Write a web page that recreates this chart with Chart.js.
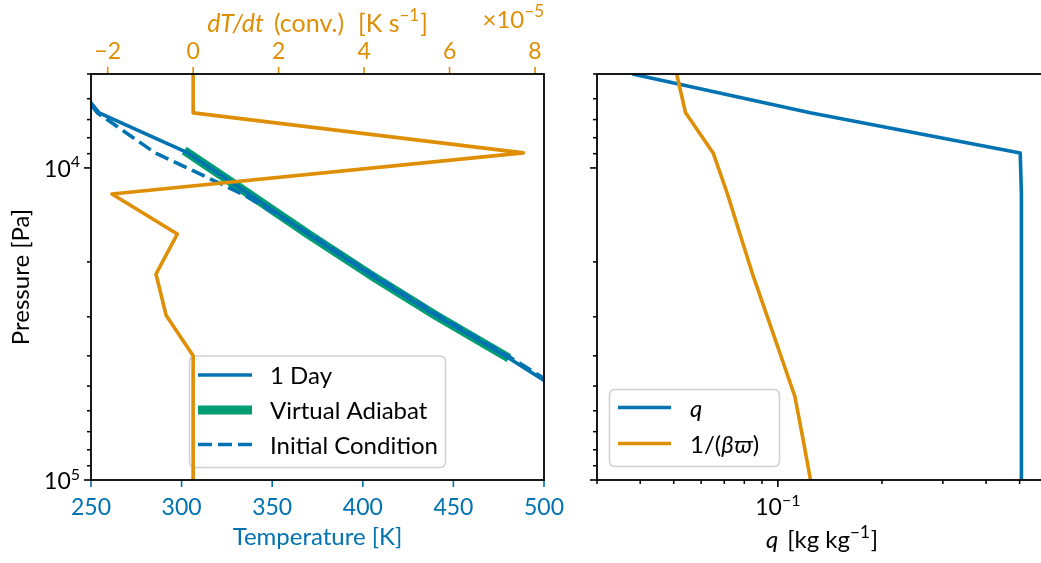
<!DOCTYPE html>
<html>
<head>
<meta charset="utf-8">
<script src="https://cdn.jsdelivr.net/npm/chart.js@4.4.1/dist/chart.umd.min.js"></script>
<style>
  html, body { margin: 0; padding: 0; background: #fff; overflow: hidden; }
  #wrap { position: relative; width: 1041px; height: 563px; overflow: hidden; }
  canvas { position: absolute; top: 0; }
  #profile { left: 0; }
  #moisture { left: 580px; }
</style>
</head>
<body>
<div id="wrap">
  <canvas id="profile" width="580" height="563"></canvas>
  <canvas id="moisture" width="480" height="563"></canvas>
</div>
<script>
// Model pressure levels [Pa], top of the column first
const pressure = [5000, 6660, 8950, 12120, 16280, 21880, 29720, 39990, 53990, 73000, 100000];

// Temperature profiles [K] on the levels above (from the top down)
const tempDay1    = [237, 254.5, 303.5, 337.2, 369.7, 403.5, 440.4, 478.5, 514];
const tempInitial = [237, 253.5, 285.4, 333.5, 371.0, 405.0, 442.0, 480.0, 516];
// Virtual adiabat covers the convecting layer only (levels 2..7)
const adiabatFirstLevel = 2;
const tempAdiabat = [303.5, 337.2, 369.7, 403.5, 440.4, 478.5];

// Convective heating rate [K s^-1]
const convRate = [0, 0, 7.73e-5, -1.90e-5, -0.37e-5, -0.87e-5, -0.63e-5, 0, 0, 0, 0];

// Specific humidity and 1/(beta*varpi) [kg kg^-1]
const qSpecific    = [0.038, 0.124, 0.502, 0.506, 0.506, 0.506, 0.506, 0.506, 0.506, 0.506, 0.506];
const invBetaVarpi = [0.051, 0.0541, 0.065, 0.0715, 0.0777, 0.0845, 0.093, 0.102, 0.112, 0.118, 0.1243];

// Axis ticks
const tempTicks = [250, 300, 350, 400, 450, 500];
const rateTicks = [-2, 0, 2, 4, 6, 8];
const rateExponent = -5;
const pressureMajor = [1e4, 1e5];
const pressureMinor = [5000, 6000, 7000, 8000, 9000, 20000, 30000, 40000, 50000, 60000, 70000, 80000, 90000];
const qMajor = [0.1];
const qMinor = [0.03, 0.04, 0.05, 0.06, 0.07, 0.08, 0.09, 0.2, 0.3, 0.4, 0.5, 0.6];

const BLUE = '#0173b2', ORANGE = '#de8f05', GREEN = '#029e73', BLACK = '#000000';
const FAM = 'Lato, "DejaVu Sans", sans-serif';
const TICK = 23, LABEL = 24, SUP = 16;

function font(size, italic) { return (italic ? 'italic ' : '') + size + 'px ' + FAM; }
function profile(values, levels) { return values.map((v, i) => ({ x: v, y: levels[i] })); }

// Text made of runs: [{t, size, italic, raise, gap}]
function runsWidth(ctx, runs) {
  let w = 0;
  for (const r of runs) { ctx.font = font(r.size || LABEL, r.italic); w += (r.gap || 0) + ctx.measureText(r.t).width; }
  return w;
}
function drawRuns(ctx, runs, x, y, align, color) {
  const w = runsWidth(ctx, runs);
  let cx = align === 'center' ? x - w / 2 : align === 'right' ? x - w : x;
  ctx.save();
  ctx.fillStyle = color; ctx.textAlign = 'left'; ctx.textBaseline = 'alphabetic';
  for (const r of runs) {
    cx += r.gap || 0;
    ctx.font = font(r.size || LABEL, r.italic);
    ctx.fillText(r.t, cx, y - (r.raise || 0));
    cx += ctx.measureText(r.t).width;
  }
  ctx.restore();
}
function seg(ctx, x1, y1, x2, y2, color, w) {
  ctx.save();
  ctx.strokeStyle = color; ctx.lineWidth = w; ctx.lineCap = 'butt';
  ctx.beginPath(); ctx.moveTo(x1, y1); ctx.lineTo(x2, y2); ctx.stroke();
  ctx.restore();
}
function frame(ctx, a) {
  ctx.save();
  ctx.strokeStyle = BLACK; ctx.lineWidth = 1.8; ctx.lineJoin = 'miter';
  ctx.strokeRect(a.left, a.top, a.right - a.left, a.bottom - a.top);
  ctx.restore();
}
function pressureTicks(ctx, sy, a, withLabels) {
  for (const p of pressureMinor) { const y = sy.getPixelForValue(p); seg(ctx, a.left - 4, y, a.left, y, BLACK, 1.5); }
  for (const p of pressureMajor) {
    const y = sy.getPixelForValue(p);
    seg(ctx, a.left - 7, y, a.left, y, BLACK, 1.6);
    if (withLabels) {
      const e = Math.round(Math.log10(p));
      drawRuns(ctx, [{ t: '10', size: TICK }, { t: String(e), size: SUP, raise: 9.5 }], a.left - 11, y + 9, 'right', BLACK);
    }
  }
}
function legendBox(ctx, x, y, w, h) {
  const r = 6;
  ctx.save();
  ctx.beginPath();
  ctx.moveTo(x + r, y); ctx.lineTo(x + w - r, y); ctx.quadraticCurveTo(x + w, y, x + w, y + r);
  ctx.lineTo(x + w, y + h - r); ctx.quadraticCurveTo(x + w, y + h, x + w - r, y + h);
  ctx.lineTo(x + r, y + h); ctx.quadraticCurveTo(x, y + h, x, y + h - r);
  ctx.lineTo(x, y + r); ctx.quadraticCurveTo(x, y, x + r, y);
  ctx.closePath();
  ctx.fillStyle = 'rgba(255,255,255,0.8)'; ctx.fill();
  ctx.strokeStyle = '#d0d0d0'; ctx.lineWidth = 1.5; ctx.stroke();
  ctx.restore();
}
function legendEntry(ctx, x1, x2, y, ds, textX, runs) {
  ctx.save();
  ctx.strokeStyle = ds.borderColor; ctx.lineWidth = ds.borderWidth;
  ctx.setLineDash(ds.borderDash || []);
  ctx.lineCap = 'butt';
  ctx.beginPath(); ctx.moveTo(x1, y); ctx.lineTo(x2, y); ctx.stroke();
  ctx.restore();
  drawRuns(ctx, runs, textX, y + 9, 'left', BLACK);
}

const common = {
  responsive: false, animation: false, devicePixelRatio: 1,
  plugins: { legend: { display: false }, tooltip: { enabled: false } },
  elements: { point: { radius: 0 }, line: { tension: 0, borderJoinStyle: 'round' } }
};

// ---- Left panel: temperature profiles and convective heating rate ----
const profileAxes = {
  id: 'profileAxes',
  beforeDatasetDraw(chart, args) {
    if (args.meta.xAxisID !== 'x2') return;
    const ctx = chart.ctx, d = chart.data.datasets;
    legendBox(ctx, 189.5, 356, 256, 111.5);
    legendEntry(ctx, 198, 252, 375, d[1], 270, [{ t: d[1].label }]);
    legendEntry(ctx, 198, 252, 410, d[0], 270, [{ t: d[0].label }]);
    legendEntry(ctx, 198, 252, 444.5, d[2], 270, [{ t: d[2].label }]);
  },
  afterDraw(chart) {
    const { ctx, chartArea: a, scales } = chart;
    const sx = scales.x, st = scales.x2, sy = scales.y;
    pressureTicks(ctx, sy, a, true);
    for (const t of tempTicks) {
      const x = sx.getPixelForValue(t);
      seg(ctx, x, a.bottom, x, a.bottom + 7, BLUE, 1.6);
      drawRuns(ctx, [{ t: String(t), size: TICK }], x, 515, 'center', BLUE);
    }
    for (const r of rateTicks) {
      const x = st.getPixelForValue(r * Math.pow(10, rateExponent));
      seg(ctx, x, a.top - 7, x, a.top, ORANGE, 1.6);
      drawRuns(ctx, [{ t: String(r).replace('-', '\u2212'), size: TICK }], x, 59, 'center', ORANGE);
    }
    frame(ctx, a);
    const cx = (a.left + a.right) / 2;
    drawRuns(ctx, [{ t: 'Temperature [K]' }], cx, 545, 'center', BLUE);
    drawRuns(ctx, [
      { t: 'dT/dt', italic: true, size: 25 },
      { t: '(conv.)', gap: 10, size: 25 },
      { t: '[K s', gap: 14, size: 25 },
      { t: '\u22121', size: SUP + 1, raise: 11 },
      { t: ']', gap: 1, size: 25 }
    ], cx, 32, 'center', ORANGE);
    drawRuns(ctx, [{ t: '\u00d710', size: 24 }, { t: '\u2212' + Math.abs(rateExponent), size: SUP + 1, raise: 11 }], a.right, 28, 'right', ORANGE);
    ctx.save();
    ctx.translate(29, (a.top + a.bottom) / 2);
    ctx.rotate(-Math.PI / 2);
    ctx.font = font(LABEL); ctx.fillStyle = BLACK; ctx.textAlign = 'center'; ctx.textBaseline = 'alphabetic';
    ctx.fillText('Pressure [Pa]', 0, 0);
    ctx.restore();
  }
};

new Chart(document.getElementById('profile'), {
  type: 'scatter',
  data: {
    datasets: [
      { label: 'Virtual Adiabat', data: profile(tempAdiabat, pressure.slice(adiabatFirstLevel)),
        xAxisID: 'x', yAxisID: 'y', showLine: true, borderColor: GREEN, borderWidth: 9,
        borderCapStyle: 'square', order: 4 },
      { label: '1 Day', data: profile(tempDay1, pressure),
        xAxisID: 'x', yAxisID: 'y', showLine: true, borderColor: BLUE, borderWidth: 3.6, order: 3 },
      { label: 'Initial Condition', data: profile(tempInitial, pressure),
        xAxisID: 'x', yAxisID: 'y', showLine: true, borderColor: BLUE, borderWidth: 3.6,
        borderDash: [14, 6], order: 2 },
      { label: 'dT/dt (conv.)', data: profile(convRate, pressure),
        xAxisID: 'x2', yAxisID: 'y', showLine: true, borderColor: ORANGE, borderWidth: 3.6, order: 1 }
    ]
  },
  options: Object.assign({}, common, {
    layout: { padding: { left: 91, right: 36, top: 74, bottom: 83 } },
    scales: {
      x:  { type: 'linear', position: 'bottom', min: 250, max: 500, display: false },
      x2: { type: 'linear', position: 'top', min: -2.39e-5, max: 8.21e-5, display: false },
      y:  { type: 'logarithmic', position: 'left', min: 5000, max: 100000, reverse: true, display: false }
    }
  }),
  plugins: [profileAxes]
});

// ---- Right panel: specific humidity ----
const moistureAxes = {
  id: 'moistureAxes',
  afterDatasetsDraw(chart) {
    const ctx = chart.ctx, d = chart.data.datasets;
    legendBox(ctx, 29.5, 389.5, 170, 77);
    legendEntry(ctx, 38, 91, 407.5, d[0], 110, [{ t: 'q', italic: true }]);
    legendEntry(ctx, 38, 91, 443.5, d[1], 110, [
      { t: '1/(' }, { t: '\u03b2\u03d6', italic: true }, { t: ')' }
    ]);
  },
  afterDraw(chart) {
    const { ctx, chartArea: a, scales } = chart;
    const sx = scales.x, sy = scales.y;
    pressureTicks(ctx, sy, a, false);
    for (const q of qMinor) { const x = sx.getPixelForValue(q); seg(ctx, x, a.bottom, x, a.bottom + 4, BLACK, 1.5); }
    for (const q of qMajor) {
      const x = sx.getPixelForValue(q);
      seg(ctx, x, a.bottom, x, a.bottom + 7, BLACK, 1.6);
      const e = Math.round(Math.log10(q));
      drawRuns(ctx, [{ t: '10', size: TICK }, { t: String(e).replace('-', '\u2212'), size: SUP, raise: 9.5 }], x, 515, 'center', BLACK);
    }
    frame(ctx, a);
    drawRuns(ctx, [
      { t: 'q', italic: true },
      { t: '[kg kg', gap: 9 },
      { t: '\u22121', size: SUP + 1, raise: 10 },
      { t: ']', gap: 1 }
    ], (a.left + a.right) / 2, 548, 'center', BLACK);
  }
};

new Chart(document.getElementById('moisture'), {
  type: 'scatter',
  data: {
    datasets: [
      { label: 'q', data: profile(qSpecific, pressure), showLine: true,
        borderColor: BLUE, borderWidth: 3.6, order: 2 },
      { label: '1/(\u03b2\u03d6)', data: profile(invBetaVarpi, pressure), showLine: true,
        borderColor: ORANGE, borderWidth: 3.6, order: 1 }
    ]
  },
  options: Object.assign({}, common, {
    layout: { padding: { left: 17, right: 13, top: 74, bottom: 83 } },
    scales: {
      x: { type: 'logarithmic', position: 'bottom', min: 0.03, max: 0.6, display: false },
      y: { type: 'logarithmic', position: 'left', min: 5000, max: 100000, reverse: true, display: false }
    }
  }),
  plugins: [moistureAxes]
});
</script>
</body>
</html>
